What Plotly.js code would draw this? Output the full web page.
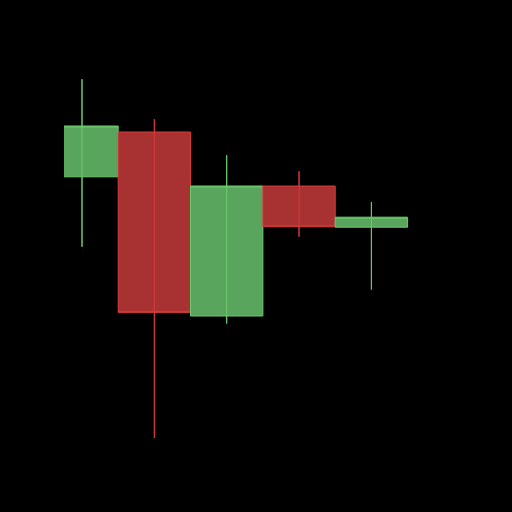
<!DOCTYPE html>
<html>
<head>
<meta charset="utf-8">
<script src="https://cdn.plot.ly/plotly-3.0.1.min.js"></script>
<style>html,body{margin:0;padding:0;background:#000;}#chart{width:512px;height:512px;}</style>
</head>
<body>
<div id="chart"></div>
<script>
var periods = [0, 1, 2, 3, 4];
var openVals  = [105.9, 111.5, 88.5, 104.75, 99.6];
var highVals  = [118.1, 113.1, 108.6, 106.6, 102.75];
var lowVals   = [97.15, 73.25, 87.55, 98.4, 91.8];
var closeVals = [112.25, 88.95, 104.75, 99.65, 100.85];

var upLine = '#6ccb6c', upFill = '#5aa55e';
var dnLine = '#d63a3a', dnFill = '#a83232';

var candles = {
  type: 'candlestick',
  x: periods,
  open: openVals,
  high: highVals,
  low: lowVals,
  close: closeVals,
  whiskerwidth: 0,
  increasing: {line: {color: upLine, width: 1}, fillcolor: upFill},
  decreasing: {line: {color: dnLine, width: 1}, fillcolor: dnFill},
  showlegend: false,
  hoverinfo: 'none'
};

// full-length wicks drawn over the bodies
function wickTrace(up) {
  var xs = [], ys = [];
  for (var i = 0; i < periods.length; i++) {
    var isUp = closeVals[i] >= openVals[i];
    if (isUp !== up) continue;
    xs.push(periods[i], periods[i], null);
    ys.push(lowVals[i], highVals[i], null);
  }
  return {
    type: 'scatter', mode: 'lines', x: xs, y: ys,
    line: {color: up ? upLine : dnLine, width: 1},
    showlegend: false, hoverinfo: 'none', connectgaps: false
  };
}

var layout = {
  width: 512, height: 512,
  margin: {l: 64, r: 64, t: 64, b: 64},
  paper_bgcolor: '#000000',
  plot_bgcolor: '#000000',
  boxgap: 0,
  boxgroupgap: 0,
  showlegend: false,
  xaxis: {range: [-0.2488, 5.0587], showgrid: false, zeroline: false, showticklabels: false, showline: false, ticks: '', rangeslider: {visible: false}},
  yaxis: {range: [72, 120], showgrid: false, zeroline: false, showticklabels: false, showline: false, ticks: ''}
};

Plotly.newPlot('chart', [candles, wickTrace(true), wickTrace(false)], layout, {staticPlot: true, displayModeBar: false});
</script>
</body>
</html>
